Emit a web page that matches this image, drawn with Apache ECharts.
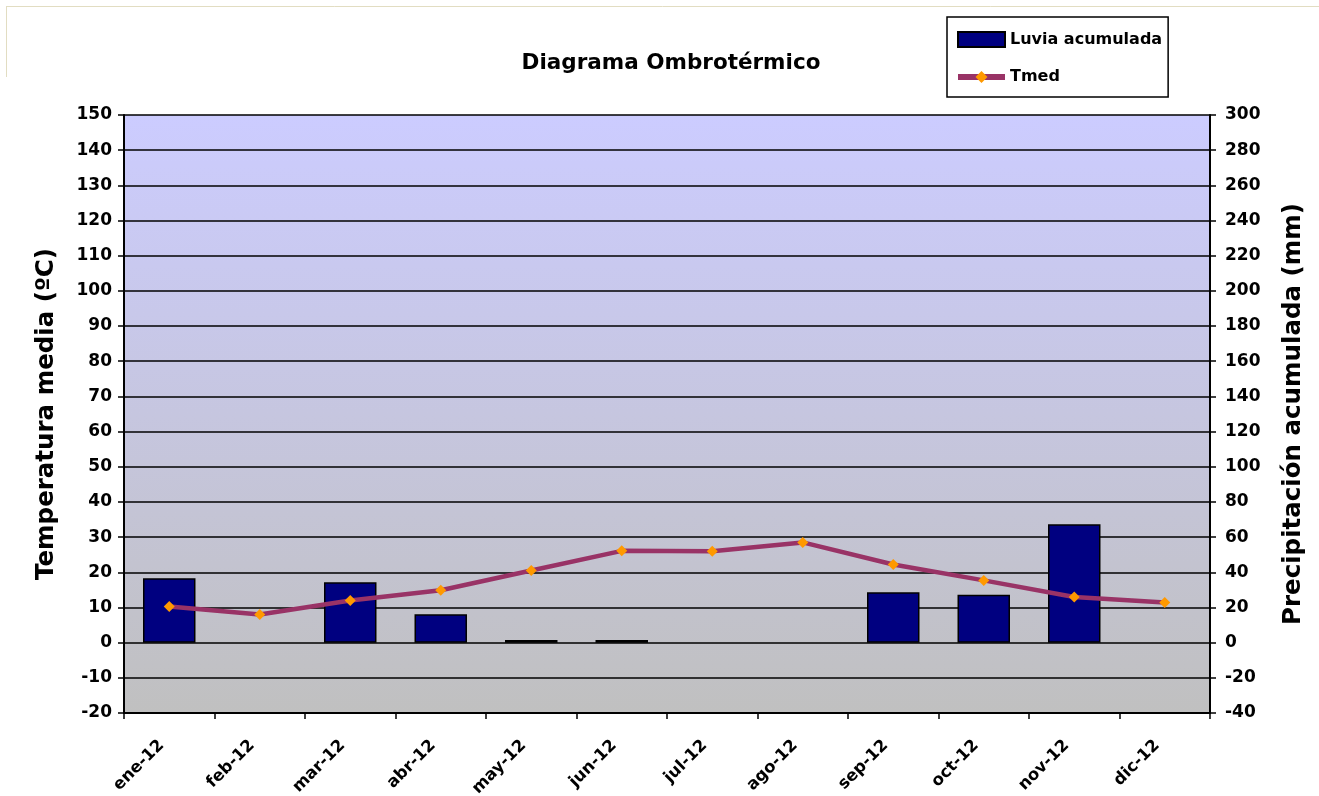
<!DOCTYPE html>
<html><head><meta charset="utf-8">
<script src="https://cdn.jsdelivr.net/npm/echarts@6/dist/echarts.min.js"></script>
<style>html,body{margin:0;padding:0;background:#fff}#c{width:1319px;height:796px}</style>
</head><body><div id="c"></div>
<script>
const categories = ['ene-12','feb-12','mar-12','abr-12','may-12','jun-12','jul-12','ago-12','sep-12','oct-12','nov-12','dic-12'];
const lluvia = [36.6, 0, 34.4, 16.1, 1.5, 1.5, 0, 0, 28.6, 27.2, 67.3, 0];
const tmed = [10.3, 8.0, 12.0, 14.9, 20.5, 26.1, 26.0, 28.5, 22.2, 17.7, 13.0, 11.4];
const FONT = 'DejaVu Sans';
const chart = echarts.init(document.getElementById('c'), null, {renderer:'canvas'});
chart.setOption({
  animation:false,
  backgroundColor:'#fff',
  textStyle:{fontFamily:FONT},
  title:{text:'Diagrama Ombrotérmico', left:666, top:47, textAlign:'center',
    textStyle:{fontFamily:FONT,fontWeight:'bold',fontSize:21.5,color:'#000'}},
  legend:{orient:'vertical', left:947, top:17,
    borderColor:'#000', borderWidth:1.5, padding:[14,6,12,8], itemGap:21,
    itemWidth:47, itemHeight:15,
    textStyle:{fontFamily:FONT,fontWeight:'bold',fontSize:16,color:'#000'},
    data:[{name:'Luvia acumulada', icon:'rect'},
          {name:'Tmed', lineStyle:{width:6,color:'#993366'}, itemStyle:{color:'#ff9900'}}]},
  graphic:[
    {type:'line', shape:{x1:6,y1:6.5,x2:1319,y2:6.5}, style:{stroke:'#e2ddc2',lineWidth:1}, silent:true},
    {type:'line', shape:{x1:6.5,y1:6,x2:6.5,y2:77}, style:{stroke:'#e2ddc2',lineWidth:1}, silent:true}
  ],
  grid:{left:124, right:109, top:115, bottom:83, show:true, borderWidth:0, containLabel:false, outerBoundsMode:'none',
    backgroundColor:{type:'linear',x:0,y:0,x2:0,y2:1,colorStops:[{offset:0,color:'#ccccff'},{offset:1,color:'#c0c0c0'}]}},
  xAxis:{type:'category', data:categories, boundaryGap:true,
    axisLine:{onZero:false, lineStyle:{color:'#000',width:2}},
    axisTick:{show:true, length:6, lineStyle:{color:'#000',width:1.5}},
    axisLabel:{rotate:45, interval:0, margin:22, padding:[0,11,0,0], fontFamily:FONT,fontWeight:'bold',fontSize:16.5,color:'#000'}},
  yAxis:[
    {type:'value', min:-20, max:150, interval:10, position:'left',
      name:'Temperatura media (ºC)', nameLocation:'middle', nameGap:65, nameRotate:90,
      nameTextStyle:{fontFamily:FONT,fontWeight:'bold',fontSize:24.5,color:'#000'},
      axisLine:{show:true,lineStyle:{color:'#000',width:2}},
      axisTick:{show:true,length:6,lineStyle:{color:'#000',width:1.5}},
      splitLine:{show:true,lineStyle:{color:'#000',width:1.5}},
      axisLabel:{margin:12,fontFamily:FONT,fontWeight:'bold',fontSize:17,color:'#000'}},
    {type:'value', min:-40, max:300, interval:20, position:'right',
      name:'Precipitación acumulada (mm)', nameLocation:'middle', nameGap:71, nameRotate:90,
      nameTextStyle:{fontFamily:FONT,fontWeight:'bold',fontSize:24.5,color:'#000'},
      axisLine:{show:true,lineStyle:{color:'#000',width:2}},
      axisTick:{show:true,length:6,lineStyle:{color:'#000',width:1.5}},
      splitLine:{show:false},
      axisLabel:{margin:15,fontFamily:FONT,fontWeight:'bold',fontSize:17,color:'#000'}}
  ],
  series:[
    {name:'Luvia acumulada', type:'bar', yAxisIndex:1, data:lluvia.map(v => v === 0 ? null : v), barWidth:'58%',
      itemStyle:{color:'#000080', borderColor:'#000', borderWidth:1.5}},
    {name:'Tmed', type:'line', yAxisIndex:0, data:tmed, symbol:'diamond', symbolSize:11,
      lineStyle:{color:'#993366', width:4.5},
      itemStyle:{color:'#ff9900', borderWidth:0}}
  ]
});
</script></body></html>
